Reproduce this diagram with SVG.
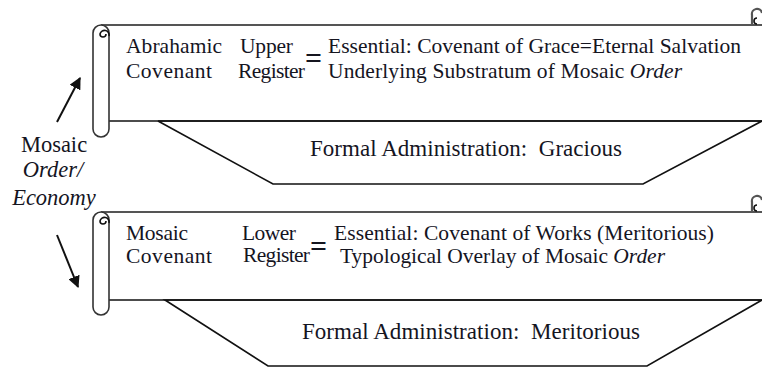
<svg xmlns="http://www.w3.org/2000/svg" width="762" height="369" viewBox="0 0 762 369">
<defs>
<style>
.t{font-family:"Liberation Serif","Times New Roman",serif;font-size:21.5px;fill:#15151f}
.f{font-family:"Liberation Serif","Times New Roman",serif;font-size:23px;fill:#15151f}
.l{font-family:"Liberation Serif","Times New Roman",serif;font-size:22.5px;fill:#15151f}
.eq{font-family:"Liberation Serif","Times New Roman",serif;font-size:30px;font-weight:bold;fill:#15151f}
.i{font-style:italic}
.top{stroke:#555;stroke-width:2.2;fill:none}
.ln{stroke:#111;stroke-width:1.6;fill:none}
.roll{stroke:#333;stroke-width:1.6;fill:#fff}
.trap{stroke:#111;stroke-width:1.6;fill:#fff}
.arr{stroke:#111;stroke-width:2}
</style>
<marker id="ah" viewBox="0 0 10 10" refX="9" refY="5" markerWidth="6" markerHeight="6" orient="auto" markerUnits="strokeWidth">
<path d="M0,0 L10,5 L0,10 z" fill="#111"/>
</marker>
</defs>

<g id="upper-scroll">
<polygon class="trap" points="158,121 273,184 643,184 762,121"/>
<path class="top" d="M101,25 H762"/>
<path class="ln" d="M109,121 H762"/>
<path class="roll" d="M101,25 A8,8 0 0 0 93,33 V129 A8,8 0 0 0 109,129 V33 A8,8 0 0 0 101,25 Z"/>
<path class="ln" d="M109,36 A4.5,4.5 0 1 0 100,34 A3,3 0 0 0 106,34"/>
<path class="top" d="M752,24 V15 A5,5 0 0 1 762,13"/>
<path class="ln" d="M757,24 A3,3 0 0 1 757,18"/>
</g>

<g id="lower-scroll">
<polygon class="trap" points="165,300 268,366 647,366 762,300"/>
<path class="top" d="M101,212 H762"/>
<path class="ln" d="M109,300 H762"/>
<path class="roll" d="M101,212 A8,8 0 0 0 93,220 V307 A8,8 0 0 0 109,307 V220 A8,8 0 0 0 101,212 Z"/>
<path class="ln" d="M109,223 A4.5,4.5 0 1 0 100,221 A3,3 0 0 0 106,221"/>
<path class="top" d="M752,211 V202 A5,5 0 0 1 762,200"/>
<path class="ln" d="M757,211 A3,3 0 0 1 757,205"/>
</g>

<g id="upper-text">
<text class="t" x="126" y="53" textLength="96">Abrahamic</text>
<text class="t" x="126" y="78" textLength="86">Covenant</text>
<text class="t" x="240" y="53" textLength="53">Upper</text>
<text class="t" x="238" y="78" textLength="67">Register</text>
<text class="eq" x="305" y="68">=</text>
<text class="t" x="328" y="53" textLength="413">Essential: Covenant of Grace=Eternal Salvation</text>
<text class="t" x="328" y="78" textLength="354">Underlying Substratum of Mosaic <tspan class="i">Order</tspan></text>
<text class="f" x="310" y="156" textLength="312" xml:space="preserve">Formal Administration:  Gracious</text>
</g>

<g id="lower-text">
<text class="t" x="126" y="240" textLength="62">Mosaic</text>
<text class="t" x="126" y="263" textLength="86">Covenant</text>
<text class="t" x="242" y="240" textLength="54">Lower</text>
<text class="t" x="243" y="262" textLength="67">Register</text>
<text class="eq" x="310" y="256">=</text>
<text class="t" x="334" y="240" textLength="380">Essential: Covenant of Works (Meritorious)</text>
<text class="t" x="340" y="263" textLength="325">Typological Overlay of Mosaic <tspan class="i">Order</tspan></text>
<text class="f" x="302" y="339" textLength="338" xml:space="preserve">Formal Administration:  Meritorious</text>
</g>

<g id="side-label">
<text class="l" x="54" y="152" text-anchor="middle">Mosaic</text>
<text class="l i" x="53" y="177" text-anchor="middle">Order/</text>
<text class="l i" x="54" y="205" text-anchor="middle">Economy</text>
</g>

<g id="connectors">
<line class="arr" x1="57" y1="122" x2="80" y2="78" marker-end="url(#ah)"/>
<line class="arr" x1="57" y1="235" x2="78" y2="287" marker-end="url(#ah)"/>
</g>
</svg>
